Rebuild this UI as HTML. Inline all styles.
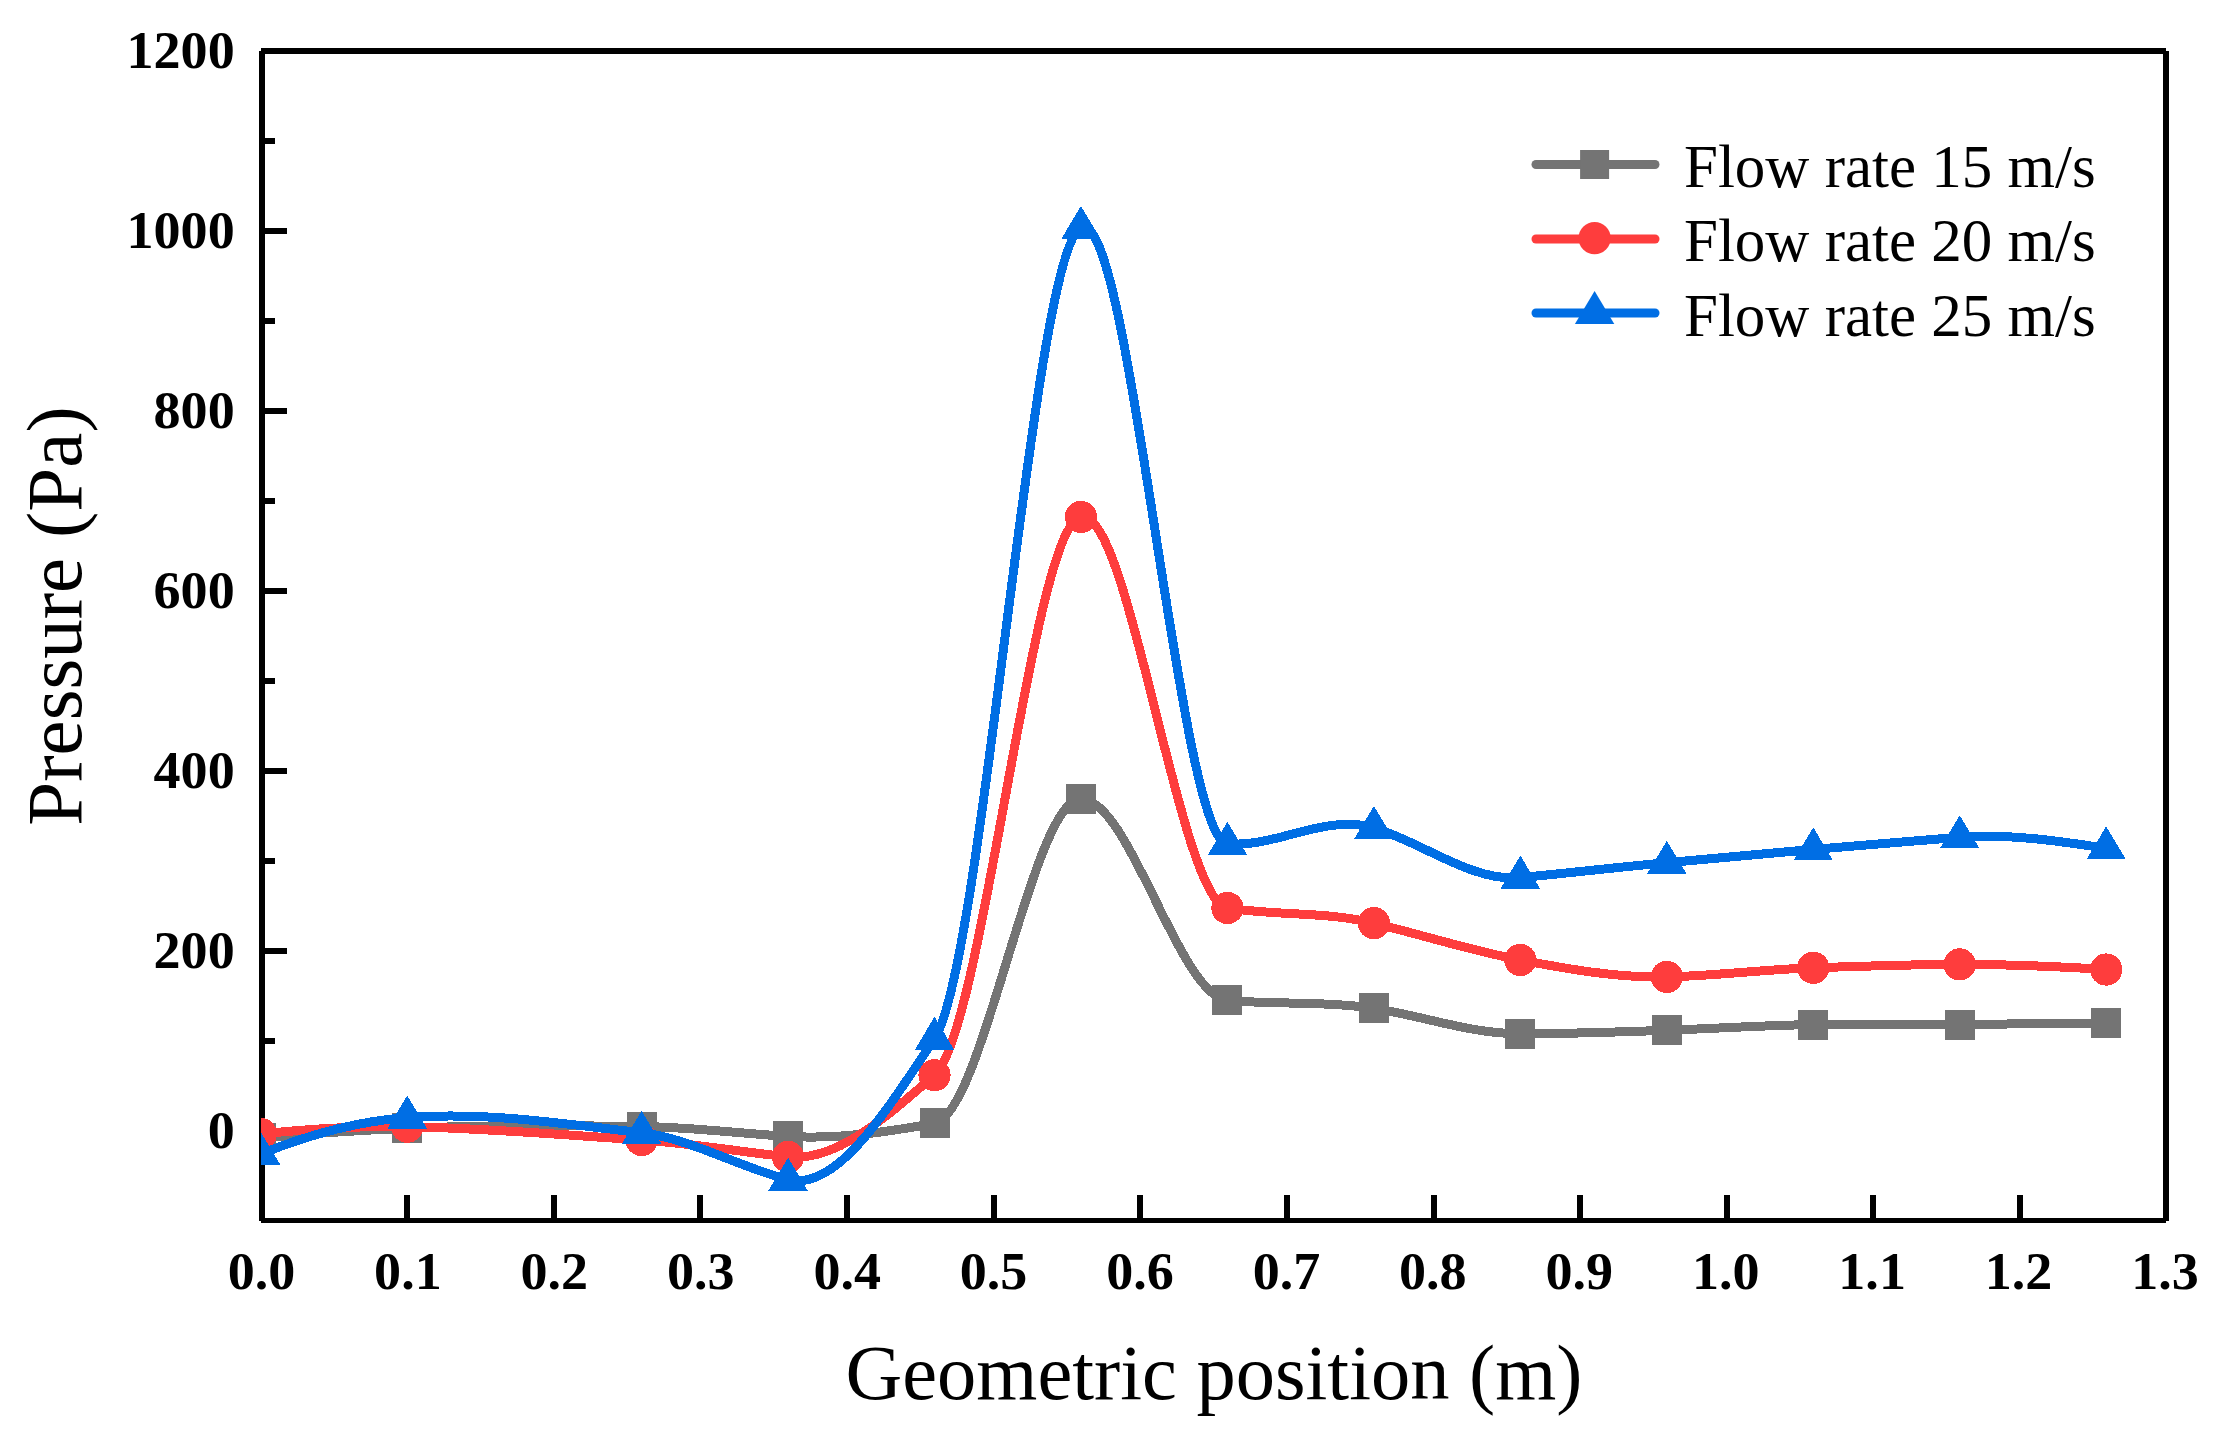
<!DOCTYPE html>
<html lang="en"><head><meta charset="utf-8"><title>Pressure vs geometric position</title>
<style>html,body{margin:0;padding:0;background:#fff}body{width:2233px;height:1442px;overflow:hidden}svg{display:block}text{font-family:"Liberation Serif",serif;fill:#000}.tk{font-weight:bold;font-size:52px}.ti{font-size:78.9px}.lg{font-size:61px}</style></head><body>
<svg width="2233" height="1442" viewBox="0 0 2233 1442">
<rect width="2233" height="1442" fill="#fff"/>
<g fill="#000" shape-rendering="crispEdges">
<rect x="259" y="51" width="6" height="1170"/>
<rect x="261" y="48" width="1905" height="6"/>
<rect x="261" y="1218" width="1905" height="5"/>
<rect x="2163" y="51" width="6" height="1170"/>
<rect x="262" y="1128" width="25" height="6"/>
<rect x="262" y="1038" width="13" height="6"/>
<rect x="262" y="948" width="25" height="6"/>
<rect x="262" y="858" width="13" height="6"/>
<rect x="262" y="768" width="25" height="6"/>
<rect x="262" y="678" width="13" height="6"/>
<rect x="262" y="588" width="25" height="6"/>
<rect x="262" y="498" width="13" height="6"/>
<rect x="262" y="408" width="25" height="6"/>
<rect x="262" y="318" width="13" height="6"/>
<rect x="262" y="228" width="25" height="6"/>
<rect x="262" y="138" width="13" height="6"/>
<rect x="262" y="48" width="25" height="6"/>
<rect x="404" y="1195" width="6" height="25"/>
<rect x="551" y="1195" width="6" height="25"/>
<rect x="697" y="1195" width="6" height="25"/>
<rect x="844" y="1195" width="6" height="25"/>
<rect x="991" y="1195" width="6" height="25"/>
<rect x="1137" y="1195" width="6" height="25"/>
<rect x="1284" y="1195" width="6" height="25"/>
<rect x="1431" y="1195" width="6" height="25"/>
<rect x="1577" y="1195" width="6" height="25"/>
<rect x="1724" y="1195" width="6" height="25"/>
<rect x="1870" y="1195" width="6" height="25"/>
<rect x="2017" y="1195" width="6" height="25"/>
</g>
<text class="tk" transform="translate(234.70,1148.10) scale(1.04,1)" text-anchor="end">0</text>
<text class="tk" transform="translate(234.70,968.10) scale(1.04,1)" text-anchor="end">200</text>
<text class="tk" transform="translate(234.70,788.10) scale(1.04,1)" text-anchor="end">400</text>
<text class="tk" transform="translate(234.70,608.10) scale(1.04,1)" text-anchor="end">600</text>
<text class="tk" transform="translate(234.70,428.10) scale(1.04,1)" text-anchor="end">800</text>
<text class="tk" transform="translate(234.70,248.10) scale(1.04,1)" text-anchor="end">1000</text>
<text class="tk" transform="translate(234.70,68.10) scale(1.04,1)" text-anchor="end">1200</text>
<text class="tk" transform="translate(261.50,1289.10) scale(1.04,1)" text-anchor="middle">0.0</text>
<text class="tk" transform="translate(407.92,1289.10) scale(1.04,1)" text-anchor="middle">0.1</text>
<text class="tk" transform="translate(554.34,1289.10) scale(1.04,1)" text-anchor="middle">0.2</text>
<text class="tk" transform="translate(700.76,1289.10) scale(1.04,1)" text-anchor="middle">0.3</text>
<text class="tk" transform="translate(847.18,1289.10) scale(1.04,1)" text-anchor="middle">0.4</text>
<text class="tk" transform="translate(993.60,1289.10) scale(1.04,1)" text-anchor="middle">0.5</text>
<text class="tk" transform="translate(1140.02,1289.10) scale(1.04,1)" text-anchor="middle">0.6</text>
<text class="tk" transform="translate(1286.44,1289.10) scale(1.04,1)" text-anchor="middle">0.7</text>
<text class="tk" transform="translate(1432.86,1289.10) scale(1.04,1)" text-anchor="middle">0.8</text>
<text class="tk" transform="translate(1579.28,1289.10) scale(1.04,1)" text-anchor="middle">0.9</text>
<text class="tk" transform="translate(1725.70,1289.10) scale(1.04,1)" text-anchor="middle">1.0</text>
<text class="tk" transform="translate(1872.12,1289.10) scale(1.04,1)" text-anchor="middle">1.1</text>
<text class="tk" transform="translate(2018.54,1289.10) scale(1.04,1)" text-anchor="middle">1.2</text>
<text class="tk" transform="translate(2164.96,1289.10) scale(1.04,1)" text-anchor="middle">1.3</text>
<text class="ti" style="font-size:78.5px" x="1214" y="1399" text-anchor="middle">Geometric position (m)</text>
<text class="ti" style="font-size:79.1px" transform="translate(81,616) rotate(-90)" text-anchor="middle">Pressure (Pa)</text>
<defs><clipPath id="plot"><rect x="261" y="51" width="1905" height="1170"/></clipPath></defs>
<g clip-path="url(#plot)" shape-rendering="crispEdges">
<path d="M260.80,1138.20 C309.62,1133.44 358.44,1130.30 407.26,1128.30 C485.37,1125.09 563.48,1125.47 641.60,1126.50 C690.42,1127.14 739.24,1133.36 788.06,1136.40 C836.88,1139.44 885.70,1132.09 934.52,1123.44 C983.34,1114.79 1032.16,798.91 1080.98,798.90 C1129.80,798.89 1178.62,995.58 1227.44,1000.32 C1276.26,1005.06 1325.08,1000.60 1373.90,1008.33 C1422.72,1016.06 1471.54,1033.87 1520.36,1033.80 C1569.18,1033.73 1618.00,1032.09 1666.82,1030.29 C1715.64,1028.49 1764.46,1025.36 1813.28,1024.53 C1862.10,1023.70 1910.92,1024.97 1959.74,1024.53 C2008.56,1024.09 2057.38,1023.67 2106.20,1022.82" fill="none" stroke="#747474" stroke-width="9.0" stroke-linejoin="round" stroke-linecap="round"/>
<rect x="245.80" y="1123.20" width="30.0" height="30.0" fill="#747474"/>
<rect x="392.26" y="1113.30" width="30.0" height="30.0" fill="#747474"/>
<rect x="626.60" y="1111.50" width="30.0" height="30.0" fill="#747474"/>
<rect x="773.06" y="1121.40" width="30.0" height="30.0" fill="#747474"/>
<rect x="919.52" y="1108.44" width="30.0" height="30.0" fill="#747474"/>
<rect x="1065.98" y="783.90" width="30.0" height="30.0" fill="#747474"/>
<rect x="1212.44" y="985.32" width="30.0" height="30.0" fill="#747474"/>
<rect x="1358.90" y="993.33" width="30.0" height="30.0" fill="#747474"/>
<rect x="1505.36" y="1018.80" width="30.0" height="30.0" fill="#747474"/>
<rect x="1651.82" y="1015.29" width="30.0" height="30.0" fill="#747474"/>
<rect x="1798.28" y="1009.53" width="30.0" height="30.0" fill="#747474"/>
<rect x="1944.74" y="1009.53" width="30.0" height="30.0" fill="#747474"/>
<rect x="2091.20" y="1007.82" width="30.0" height="30.0" fill="#747474"/>
<path d="M260.80,1133.97 C309.62,1128.94 358.44,1125.74 407.26,1126.68 C485.37,1128.18 563.48,1134.94 641.60,1140.00 C690.42,1143.16 739.24,1151.80 788.06,1156.83 C836.88,1161.86 885.70,1117.34 934.52,1075.20 C983.34,1033.06 1032.16,526.09 1080.98,516.93 C1129.80,507.77 1178.62,900.12 1227.44,907.98 C1276.26,915.84 1325.08,911.28 1373.90,923.19 C1422.72,935.10 1471.54,950.74 1520.36,960.00 C1569.18,969.26 1618.00,978.03 1666.82,976.92 C1715.64,975.81 1764.46,969.44 1813.28,967.83 C1862.10,966.22 1910.92,964.41 1959.74,964.41 C2008.56,964.41 2057.38,966.40 2106.20,969.54" fill="none" stroke="#FE3D3D" stroke-width="9.0" stroke-linejoin="round" stroke-linecap="round"/>
<circle cx="260.80" cy="1133.97" r="16.1" fill="#FE3D3D"/>
<circle cx="407.26" cy="1126.68" r="16.1" fill="#FE3D3D"/>
<circle cx="641.60" cy="1140.00" r="16.1" fill="#FE3D3D"/>
<circle cx="788.06" cy="1156.83" r="16.1" fill="#FE3D3D"/>
<circle cx="934.52" cy="1075.20" r="16.1" fill="#FE3D3D"/>
<circle cx="1080.98" cy="516.93" r="16.1" fill="#FE3D3D"/>
<circle cx="1227.44" cy="907.98" r="16.1" fill="#FE3D3D"/>
<circle cx="1373.90" cy="923.19" r="16.1" fill="#FE3D3D"/>
<circle cx="1520.36" cy="960.00" r="16.1" fill="#FE3D3D"/>
<circle cx="1666.82" cy="976.92" r="16.1" fill="#FE3D3D"/>
<circle cx="1813.28" cy="967.83" r="16.1" fill="#FE3D3D"/>
<circle cx="1959.74" cy="964.41" r="16.1" fill="#FE3D3D"/>
<circle cx="2106.20" cy="969.54" r="16.1" fill="#FE3D3D"/>
<path d="M260.80,1154.04 C309.62,1134.18 358.44,1121.18 407.26,1117.50 C485.37,1111.61 563.48,1123.78 641.60,1132.80 C690.42,1138.44 739.24,1167.29 788.06,1179.60 C836.88,1191.91 885.70,1111.66 934.52,1038.75 C983.34,965.84 1032.16,253.48 1080.98,227.94 C1129.80,202.40 1178.62,839.97 1227.44,843.90 C1276.26,847.83 1325.08,813.35 1373.90,827.88 C1422.72,842.41 1471.54,882.02 1520.36,877.56 C1569.18,873.10 1618.00,867.16 1666.82,862.71 C1715.64,858.26 1764.46,853.81 1813.28,849.39 C1862.10,844.97 1910.92,840.92 1959.74,837.24 C2008.56,833.56 2057.38,840.75 2106.20,848.31" fill="none" stroke="#006EE4" stroke-width="9.0" stroke-linejoin="round" stroke-linecap="round"/>
<polygon points="260.80,1132.04 280.50,1165.04 241.10,1165.04" fill="#006EE4"/>
<polygon points="407.26,1095.50 426.96,1128.50 387.56,1128.50" fill="#006EE4"/>
<polygon points="641.60,1110.80 661.30,1143.80 621.90,1143.80" fill="#006EE4"/>
<polygon points="788.06,1157.60 807.76,1190.60 768.36,1190.60" fill="#006EE4"/>
<polygon points="934.52,1016.75 954.22,1049.75 914.82,1049.75" fill="#006EE4"/>
<polygon points="1080.98,205.94 1100.68,238.94 1061.28,238.94" fill="#006EE4"/>
<polygon points="1227.44,821.90 1247.14,854.90 1207.74,854.90" fill="#006EE4"/>
<polygon points="1373.90,805.88 1393.60,838.88 1354.20,838.88" fill="#006EE4"/>
<polygon points="1520.36,855.56 1540.06,888.56 1500.66,888.56" fill="#006EE4"/>
<polygon points="1666.82,840.71 1686.52,873.71 1647.12,873.71" fill="#006EE4"/>
<polygon points="1813.28,827.39 1832.98,860.39 1793.58,860.39" fill="#006EE4"/>
<polygon points="1959.74,815.24 1979.44,848.24 1940.04,848.24" fill="#006EE4"/>
<polygon points="2106.20,826.31 2125.90,859.31 2086.50,859.31" fill="#006EE4"/>
</g>
<line x1="1536" y1="164.5" x2="1655" y2="164.5" stroke="#747474" stroke-width="9.0" stroke-linecap="round"/>
<rect x="1580.10" y="150.00" width="29" height="29" fill="#747474"/>
<text class="lg" x="1684" y="187">Flow rate 15 m/s</text>
<line x1="1536" y1="239.0" x2="1655" y2="239.0" stroke="#FE3D3D" stroke-width="9.0" stroke-linecap="round"/>
<circle cx="1594.60" cy="238.20" r="16.1" fill="#FE3D3D"/>
<text class="lg" x="1684" y="261.2">Flow rate 20 m/s</text>
<line x1="1536" y1="313.0" x2="1655" y2="313.0" stroke="#006EE4" stroke-width="9.0" stroke-linecap="round"/>
<polygon points="1594.60,291.00 1614.30,324.00 1574.90,324.00" fill="#006EE4"/>
<text class="lg" x="1684" y="336">Flow rate 25 m/s</text>
</svg></body></html>
